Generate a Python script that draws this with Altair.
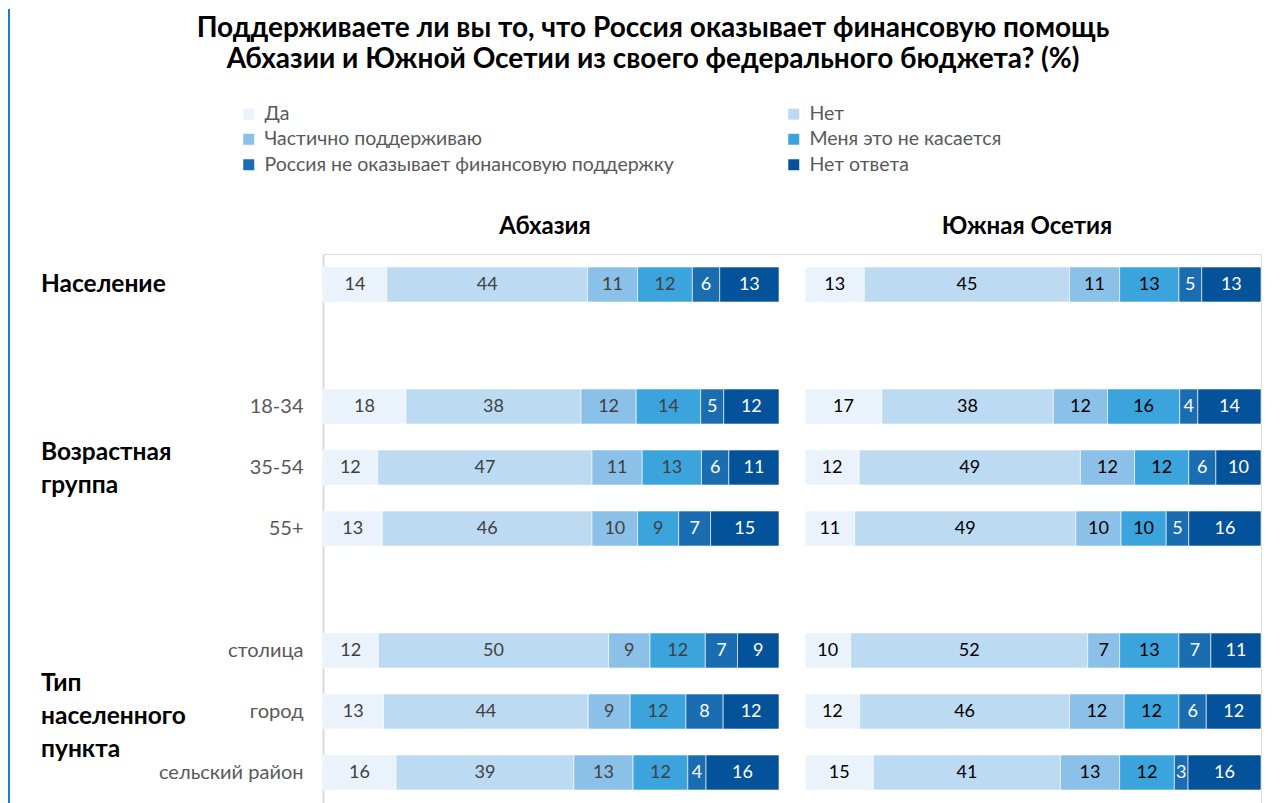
import altair as alt
import pandas as pd

# ---------------- data ----------------
categories = [
    "Да",
    "Нет",
    "Частично поддерживаю",
    "Меня это не касается",
    "Россия не оказывает финансовую поддержку",
    "Нет ответа",
]
cat_colors = ["#EAF3FC", "#BDDAF3", "#8BC0E8", "#3BA4DD", "#1A6DB0", "#03529A"]

row_keys = ["Население", "gap1", "18-34", "35-54", "55+", "gap2",
            "столица", "город", "сельский район"]
data_rows = ["Население", "18-34", "35-54", "55+", "столица", "город", "сельский район"]

abkhazia_da = [14, 18, 12, 13, 12, 13, 16]
abkhazia_net = [44, 38, 47, 46, 50, 44, 39]
abkhazia_part = [11, 12, 11, 10, 9, 9, 13]
abkhazia_nokas = [12, 14, 13, 9, 12, 12, 12]
abkhazia_noaid = [6, 5, 6, 7, 7, 8, 4]
abkhazia_noans = [13, 12, 11, 15, 9, 12, 16]

ossetia_da = [13, 17, 12, 11, 10, 12, 15]
ossetia_net = [45, 38, 49, 49, 52, 46, 41]
ossetia_part = [11, 12, 12, 10, 7, 12, 13]
ossetia_nokas = [13, 16, 12, 10, 13, 12, 12]
ossetia_noaid = [5, 4, 6, 5, 7, 6, 3]
ossetia_noans = [13, 14, 10, 16, 11, 12, 16]

panel_names = ["Абхазия", "Южная Осетия"]
title_lines = [
    "Поддерживаете ли вы то, что Россия оказывает финансовую помощь",
    "Абхазии и Южной Осетии из своего федерального бюджета? (%)",
]
group_labels = ["Население", ["Возрастная", "группа"], ["Тип", "населенного", "пункта"]]

# ---------------- build table ----------------
recs = []
for pi, (region, series) in enumerate([
    ("Абхазия", [abkhazia_da, abkhazia_net, abkhazia_part, abkhazia_nokas, abkhazia_noaid, abkhazia_noans]),
    ("Южная Осетия", [ossetia_da, ossetia_net, ossetia_part, ossetia_nokas, ossetia_noaid, ossetia_noans]),
]):
    for ci, (cat, vals) in enumerate(zip(categories, series)):
        for r, v in zip(data_rows, vals):
            recs.append({"region": region, "panel": pi, "row": r, "cat": cat,
                         "order": ci, "value": v})
df = pd.DataFrame(recs)

FONT = "Lato"
PW = 456          # one panel, px
GAP = 26          # gap between panels, px
W, H = 2 * PW + GAP, 549
GAP_UNITS = GAP / PW * 100
X_MAX = 200 + GAP_UNITS

yscale = alt.Scale(domain=row_keys, paddingInner=0.426, paddingOuter=0.213)
xscale = alt.Scale(domain=[0, X_MAX], nice=False, zero=False)
cscale = alt.Scale(domain=categories, range=cat_colors)

base = alt.Chart(df).transform_stack(
    stack="value", as_=["s0", "s1"], groupby=["region", "row"],
    offset="normalize", sort=[alt.SortField("order")]
).transform_calculate(
    off=f"datum.panel * {100 + GAP_UNITS}",
).transform_calculate(
    xs="datum.s0 * 100 + datum.off",
    xe="datum.s1 * 100 + datum.off",
    mid="(datum.s0 + datum.s1) * 50 + datum.off",
    tcol="datum.order >= 4 ? '#FFFFFF' : (datum.panel == 0 ? '#404040' : '#000000')",
)

yaxis = alt.Axis(
    title=None, ticks=False, labelPadding=20, labelFontSize=20,
    labelColor="#595959", labelFont=FONT, domainColor="#D9D9D9",
    domainWidth=2, grid=False,
    labelExpr="indexof(['Население','gap1','gap2'], datum.value) >= 0 ? '' : datum.value",
)

bars = base.mark_bar(stroke="white", strokeWidth=0.6).encode(
    x=alt.X("xs:Q", scale=xscale, axis=None),
    x2="xe:Q",
    y=alt.Y("row:N", scale=yscale, axis=yaxis),
    color=alt.Color(
        "cat:N", scale=cscale, sort=categories,
        legend=alt.Legend(
            title=None, orient="none", legendX=-84, legendY=-150,
            direction="horizontal", columns=2, columnPadding=110, rowPadding=4.5,
            symbolType="square", symbolSize=121, symbolStrokeWidth=0,
            labelFontSize=19.5, labelColor="#595959", labelFont=FONT,
            labelOffset=6, labelLimit=700,
        ),
    ),
)
texts = base.mark_text(fontSize=18, font=FONT).encode(
    x=alt.X("mid:Q", scale=xscale, axis=None),
    y=alt.Y("row:N", scale=yscale, axis=yaxis),
    text=alt.Text("value:Q"),
    color=alt.Color("tcol:N", scale=None),
)

one = pd.DataFrame({"a": [0]})
headers = [
    alt.Chart(one).mark_text(
        text=name, fontSize=24, fontWeight="bold", font=FONT, color="#000000"
    ).encode(x=alt.value(i * (PW + GAP) + PW / 2 - 6), y=alt.value(-27))
    for i, name in enumerate(panel_names)
]

frame_line = alt.Chart(one).mark_rule(color="#1383C6", strokeWidth=2).encode(
    x=alt.value(-314), y=alt.value(-245), y2=alt.value(H)
)
title = alt.Chart(one).mark_text(
    text=title_lines, fontSize=28, fontWeight="bold", font=FONT,
    color="#000000", lineHeight=31, align="center", baseline="middle",
).encode(x=alt.value(330), y=alt.value(-225.5))

grp_y = [31, 199, 430]
grp_layers = [
    alt.Chart(one).mark_text(
        text=lbl, fontSize=24.5, fontWeight="bold", font=FONT, color="#000000",
        align="left", baseline="middle", lineHeight=33,
    ).encode(x=alt.value(-282), y=alt.value(gy))
    for lbl, gy in zip(group_labels, grp_y)
]

chart = alt.layer(bars, texts, *headers, frame_line, title, *grp_layers).properties(
    width=W, height=H,
    padding={"left": 0, "top": 0, "right": 0, "bottom": 0},
).configure_view(strokeWidth=0, stroke="transparent").configure(font=FONT)

chart.save("out.html", embed_options={"renderer": "svg", "actions": False})
